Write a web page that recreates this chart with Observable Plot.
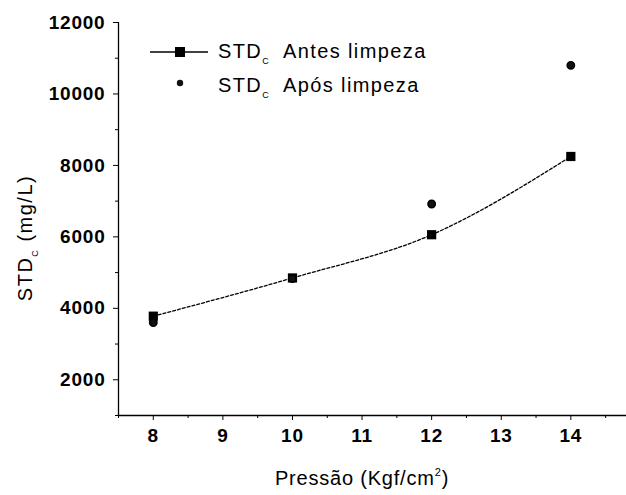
<!DOCTYPE html>
<html><head><meta charset="utf-8">
<script src="https://cdn.jsdelivr.net/npm/d3@7"></script>
<script src="https://cdn.jsdelivr.net/npm/@observablehq/plot@0.6"></script>
<style>body{margin:0;background:#fff}</style>
</head><body><div id="chart"></div>
<script>
const pressure = [8, 10, 12, 14];
const antes = [3780, 4850, 6060, 8250];
const apos = [3600, 4830, 6920, 10800];
const xTicks = [8, 9, 10, 11, 12, 13, 14];
const xMinor = [7.5, 8.5, 9.5, 10.5, 11.5, 12.5, 13.5, 14.5];
const yTicks = [2000, 4000, 6000, 8000, 10000, 12000];
const yMinor = [1000, 3000, 5000, 7000, 9000, 11000];
const seriesNames = ["Antes limpeza", "Após limpeza"];

const dA = pressure.map((p, i) => ({p, v: antes[i]}));
const dB = pressure.map((p, i) => ({p, v: apos[i]}));
const font = "'Liberation Sans', Arial, sans-serif";

const chart = Plot.plot({
  width: 626, height: 495,
  marginLeft: 118, marginRight: 0, marginTop: 22, marginBottom: 80,
  style: {fontFamily: font, background: "#fff", color: "#000"},
  x: {domain: [7.5, 14.8], axis: null},
  y: {domain: [1000, 12000], axis: null},
  marks: [
    Plot.ruleX([7.5], {y1: 1000, y2: 12000, stroke: "#000", strokeWidth: 1.3}),
    Plot.ruleY([1000], {x1: 7.5, x2: 14.8, stroke: "#000", strokeWidth: 1.3}),
    Plot.axisY({ticks: yTicks, tickSize: 5, tickPadding: 8, tickFormat: d => String(d), fontSize: 19, fontWeight: "bold", label: null}),
    Plot.axisY({ticks: yMinor, tickSize: 3, text: null, label: null}),
    Plot.axisX({ticks: xTicks, tickSize: 5, tickPadding: 8, tickFormat: d => String(d), fontSize: 19, fontWeight: "bold", label: null}),
    Plot.axisX({ticks: xMinor, tickSize: 3, text: null, label: null}),
    Plot.line(dA, {x: "p", y: "v", stroke: "#000", strokeWidth: 1.3, strokeDasharray: "3,2", curve: "monotone-x"}),
    Plot.dot(dA, {x: "p", y: "v", symbol: "square", r: 5.2, fill: "#000"}),
    Plot.dot(dB, {x: "p", y: "v", symbol: "circle", r: 3.7, fill: "#111", stroke: "#000"})
  ]
});
document.getElementById("chart").append(chart);

const svg = d3.select(chart);
svg.selectAll("g[aria-label='y-axis tick label'] text, g[aria-label='x-axis tick label'] text").style("letter-spacing", "0.8px");

function subText(g, x, y, size, anchor, transform, pre, sub, post, ls) {
  const t = g.append("text").attr("x", x).attr("y", y)
    .attr("font-size", size).attr("font-family", font).attr("fill", "#000")
    .attr("text-anchor", anchor).style("letter-spacing", ls + "px");
  if (transform) t.attr("transform", transform);
  t.append("tspan").text(pre);
  t.append("tspan").attr("font-size", size * 0.45).attr("dy", size * 0.3).text(sub);
  t.append("tspan").attr("dy", -size * 0.3).text(post);
  return t;
}

// Legend
const lg = svg.append("g");
lg.append("line").attr("x1", 150).attr("x2", 208).attr("y1", 52).attr("y2", 52).attr("stroke", "#000").attr("stroke-width", 1.3);
lg.append("rect").attr("x", 175).attr("y", 47).attr("width", 10).attr("height", 10).attr("fill", "#000");
lg.append("circle").attr("cx", 180).attr("cy", 83).attr("r", 3.2).attr("fill", "#111");
subText(lg, 218, 58, 20, "start", null, "STD", "C", "  " + seriesNames[0], 1.4);
subText(lg, 218, 92, 20, "start", null, "STD", "C", "  " + seriesNames[1], 1.4);

// Axis labels
subText(svg, 0, 0, 20, "middle", "translate(32,238) rotate(-90)", "STD", "C", " (mg/L)", 1.5);
const xl = svg.append("text").attr("x", 362).attr("y", 485).attr("font-size", 20)
  .attr("font-family", font).attr("text-anchor", "middle").attr("fill", "#000").style("letter-spacing", "0.8px");
xl.append("tspan").text("Pressão (Kgf/cm");
xl.append("tspan").attr("font-size", 11).attr("dy", -9).text("2");
xl.append("tspan").attr("dy", 9).text(")");
</script></body></html>
